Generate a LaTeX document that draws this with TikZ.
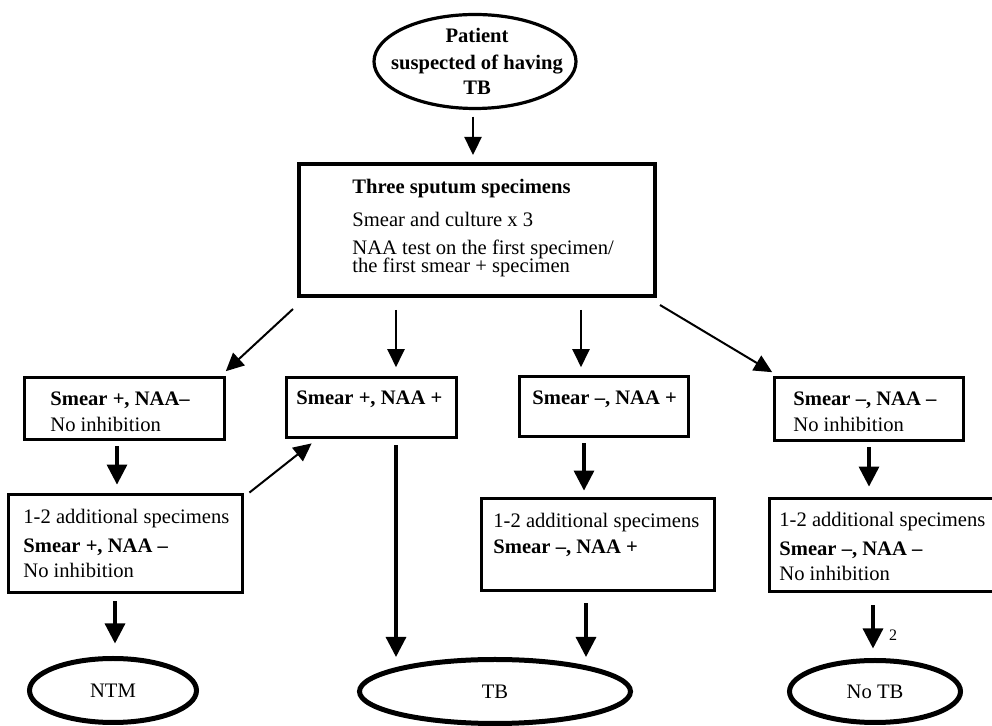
\documentclass[tikz,border=0pt]{standalone}
\usepackage{fontspec}
\setmainfont{Liberation Serif}
\usetikzlibrary{arrows.meta, shapes.geometric}

\begin{document}
\begin{tikzpicture}[x=0.5pt, y=-0.5pt,
  box/.style={draw, line width=1.3pt, inner sep=0pt},
  mainbox/.style={draw, line width=2pt, inner sep=0pt},
  oval/.style={draw, ellipse, line width=2.5pt, inner sep=0pt,
               font=\fontsize{10.3}{12}\selectfont},
  txt/.style={inner sep=0pt, align=left, font=\fontsize{10.3}{13}\selectfont},
  arr/.style={-{Triangle[length=9pt, width=8.5pt]}, line width=1.2pt},
  thinarr/.style={-{Triangle[length=9pt, width=8.5pt]}, line width=1pt},
  bigarr/.style={-{Triangle[length=10pt, width=10pt]}, line width=1.6pt}
]
\useasboundingbox (0,0) rectangle (992,726);

% patient
\node[oval, line width=1.6pt, minimum width=101pt, minimum height=47pt] (pat) at (475,61.5) {};
\node[txt, align=center, font=\fontsize{10.3}{13}\selectfont\bfseries, anchor=base] (pattxt) at (477,95)
  {Patient\\[0.5pt] suspected of having\\[-0.5pt] TB};

% sputum
\node[mainbox, minimum width=178pt, minimum height=66pt] (main) at (477,230) {};
\node[txt, anchor=base west] (maintxt) at (352,273)
  {\textbf{Three sputum specimens}\\[3.5pt] Smear and culture x 3\\[1pt]
   NAA test on the first specimen/\\[-4pt] the first smear + specimen};

% first results
\node[box, minimum width=100pt, minimum height=31pt] (smpn) at (124.5,408.5) {};
\node[txt, anchor=base west] (smpntxt) at (50,432) {\textbf{Smear +, NAA–}\\ No inhibition};
\node[box, minimum width=85pt, minimum height=30pt] (smpp) at (371.5,407.5) {};
\node[txt, anchor=base west] (smpptxt) at (296,405) {\textbf{Smear +, NAA +}};
\node[box, minimum width=84.5pt, minimum height=30pt] (smnp) at (604,406.5) {};
\node[txt, anchor=base west] (smnptxt) at (532,405) {\textbf{Smear –, NAA +}};
\node[box, minimum width=94.5pt, minimum height=31.5pt] (smnn) at (869,409) {};
\node[txt, anchor=base west] (smnntxt) at (793,432) {\textbf{Smear –, NAA –}\\ No inhibition};

% additional specimens
\node[box, minimum width=117pt, minimum height=49pt] (addpn) at (125.5,543.5) {};
\node[txt, anchor=base west] (addpntxt) at (23,578)
  {1-2 additional specimens\\[1.5pt] \textbf{Smear +, NAA –}\\[-0.5pt] No inhibition};
\node[box, minimum width=116.5pt, minimum height=46pt] (addnp) at (598,544.5) {};
\node[txt, anchor=base west] (addnptxt) at (493,554)
  {1-2 additional specimens\\ \textbf{Smear –, NAA +}};
\node[box, minimum width=112.5pt, minimum height=46.5pt] (addnn) at (882,545) {};
\node[txt, anchor=base west] (addnntxt) at (779,581)
  {1-2 additional specimens\\[1.5pt] \textbf{Smear –, NAA –}\\[-0.5pt] No inhibition};

% outcomes
\node[oval, minimum width=83.5pt, minimum height=32pt] (ntm) at (113,690.5) {NTM};
\node[oval, minimum width=135.5pt, minimum height=32pt] (tb) at (495,691.5) {TB};
\node[oval, minimum width=85.5pt, minimum height=31pt] (notb) at (875,691.5) {No TB};

% arrows
\draw[arr] ([shift={(-1pt,-3.25pt)}]pat.south) -- ([shift={(-2pt,3.5pt)}]main.north);
\draw[thinarr] ([shift={(-2pt,-5.5pt)}]main.south west) -- ([shift={(0pt,2.5pt)}]smpn.north east);
\draw[arr] ([shift={(-40.5pt,-6pt)}]main.south) -- ([shift={(12.25pt,4.5pt)}]smpp.north);
\draw[arr] ([shift={(52pt,-6pt)}]main.south) -- ([shift={(-11.5pt,4pt)}]smnp.north);
\draw[thinarr] ([shift={(1.5pt,-3.5pt)}]main.south east) -- ([shift={(-0.5pt,2pt)}]smnn.north west);

\draw[bigarr] ([shift={(-3.75pt,-2.8pt)}]smpn.south) -- ([shift={(-4.25pt,4.3pt)}]addpn.north);
\draw[thinarr] ([shift={(2.8pt,0.3pt)}]addpn.north east) -- ([shift={(13.2pt,-2.3pt)}]smpp.south west);
\draw[bigarr] ([shift={(12.25pt,-3.3pt)}]smpp.south) -- ([xshift=-49.5pt]tb.north);
\draw[bigarr] ([shift={(-10pt,-2.8pt)}]smnp.south) -- ([shift={(-7pt,3.3pt)}]addnp.north);
\draw[bigarr] ([shift={(0pt,-2.8pt)}]smnn.south) -- ([shift={(-6.5pt,5.3pt)}]addnn.north);

\draw[bigarr] ([shift={(-5.25pt,-3.8pt)}]addpn.south) -- ([shift={(1pt,6.25pt)}]ntm.north);
\draw[bigarr] ([shift={(-6pt,-5.8pt)}]addnp.south) -- ([xshift=45.5pt]tb.north);
\draw[bigarr] ([shift={(-4.5pt,-6.3pt)}]addnn.south) -- ([shift={(-1pt,4.75pt)}]notb.north);
\node[inner sep=0pt, font=\fontsize{8}{9}\selectfont] (two) at (893,635) {2};
\end{tikzpicture}
\end{document}
